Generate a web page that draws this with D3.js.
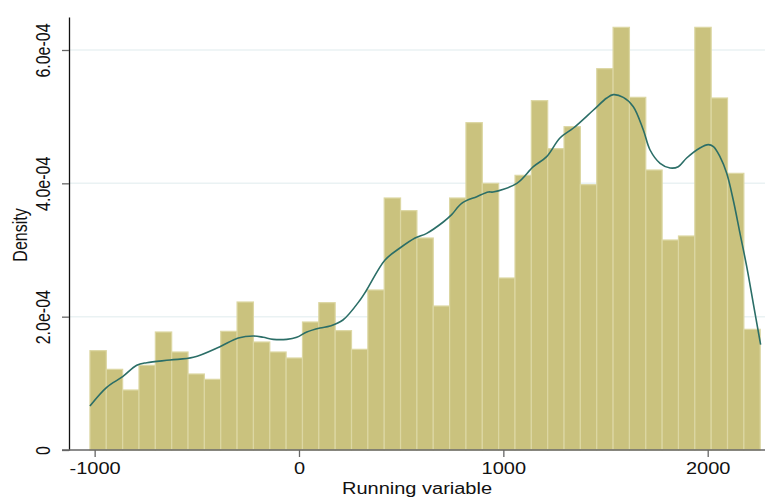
<!DOCTYPE html>
<html>
<head>
<meta charset="utf-8">
<script src="https://cdn.jsdelivr.net/npm/d3@7"></script>
<style>
  body { margin: 0; background: #fff; }
  text { font-family: "Liberation Sans", Arial, sans-serif; }
</style>
</head>
<body>
<div id="chart"></div>
<script>
// histogram bins (density units), first bin edge and width in running-variable units
var binStart = -1023;
var binWidth = 80;
var binDensity = [
  1.49e-4, 1.21e-4, 0.90e-4, 1.27e-4, 1.77e-4, 1.47e-4, 1.14e-4, 1.06e-4, 1.78e-4, 2.22e-4,
  1.62e-4, 1.47e-4, 1.38e-4, 1.92e-4, 2.21e-4, 1.79e-4, 1.51e-4, 2.40e-4, 3.78e-4, 3.59e-4,
  3.18e-4, 2.16e-4, 3.78e-4, 4.91e-4, 4.00e-4, 2.58e-4, 4.12e-4, 5.24e-4, 4.52e-4, 4.85e-4,
  3.98e-4, 5.72e-4, 6.34e-4, 5.29e-4, 4.20e-4, 3.15e-4, 3.21e-4, 6.34e-4, 5.28e-4, 4.15e-4,
  1.81e-4
];

// kernel density line
var kdeX = [-1023, -941, -863, -794, -745, -631, -517, -387, -297, -224, -175, -126, -60, -11,
  38, 103, 152, 215, 299, 331, 421, 494, 568, 625, 706, 747, 796, 870, 927, 950, 1066, 1147,
  1212, 1277, 1343, 1441, 1506, 1538, 1587, 1636, 1685, 1718, 1767, 1816, 1856, 1897, 1962,
  2003, 2028, 2060, 2093, 2125, 2158, 2191, 2223, 2259];
var kdeY = [0.66, 0.94, 1.10, 1.27, 1.31, 1.35, 1.39, 1.55, 1.68, 1.71, 1.69, 1.66, 1.66, 1.69,
  1.77, 1.83, 1.86, 1.95, 2.25, 2.40, 2.85, 3.03, 3.18, 3.25, 3.42, 3.53, 3.70, 3.80, 3.87, 3.87,
  4.00, 4.25, 4.40, 4.68, 4.83, 5.10, 5.28, 5.33, 5.29, 5.15, 4.80, 4.50, 4.30, 4.23, 4.25, 4.38,
  4.53, 4.58, 4.55, 4.40, 4.15, 3.75, 3.25, 2.75, 2.20, 1.58].map(function(v) { return v * 1e-4; });

var xTicks = [-1000, 0, 1000, 2000];
var yTicks = [0, 2e-4, 4e-4, 6e-4];

var svgWidth = 765;
var svgHeight = 497;

var svg = d3.select("#chart")
  .append("svg")
  .attr("width", svgWidth)
  .attr("height", svgHeight);

// scales - plot region from y axis (x=69) to right edge
var xScale = d3.scaleLinear()
  .domain([-1125.5, 2280.4])
  .range([69, 765]);

var yScale = d3.scaleLinear()
  .domain([0, 6.495e-4])
  .range([450, 17]);

// grid lines
svg.append("g")
  .selectAll("line")
  .data(yTicks.slice(1))
  .enter()
  .append("line")
  .attr("x1", 69)
  .attr("x2", 765)
  .attr("y1", d => yScale(d))
  .attr("y2", d => yScale(d))
  .attr("stroke", "#eaf2f3")
  .attr("stroke-width", 1.5);

// bars
var bins = binDensity.map(function(d, i) {
  return { x0: binStart + i * binWidth, x1: binStart + (i + 1) * binWidth, y: d };
});

svg.append("g")
  .selectAll("rect")
  .data(bins)
  .enter()
  .append("rect")
  .attr("x", d => xScale(d.x0))
  .attr("y", d => yScale(d.y))
  .attr("width", d => xScale(d.x1) - xScale(d.x0))
  .attr("height", d => yScale(0) - yScale(d.y))
  .attr("fill", "#cac27e")
  .attr("stroke", "#dcd7a3")
  .attr("stroke-width", 1.2);

// density curve
var kde = kdeX.map((x, i) => [x, kdeY[i]]);
var line = d3.line()
  .x(d => xScale(d[0]))
  .y(d => yScale(d[1]))
  .curve(d3.curveCatmullRom);

svg.append("path")
  .datum(kde)
  .attr("d", line)
  .attr("fill", "none")
  .attr("stroke", "#2b6e67")
  .attr("stroke-width", 1.6);

// axes
var fmt = d => d === 0 ? "0" : d.toExponential(1).replace(/e([+-])(\d)$/, "e$10$2");

var yAxis = svg.append("g")
  .attr("transform", "translate(69,0)")
  .call(d3.axisLeft(yScale).tickValues(yTicks).tickFormat(fmt).tickSize(7).tickSizeOuter(0));
yAxis.select(".domain").attr("stroke", "#111").attr("stroke-width", 1.3);
yAxis.selectAll(".tick line").attr("stroke", "#666").attr("stroke-width", 1.3);
yAxis.selectAll(".tick text")
  .attr("x", 0).attr("y", 0).attr("dy", 0)
  .attr("text-anchor", "middle")
  .attr("transform", "translate(-19,0) scale(1.25,1) rotate(-90)")
  .attr("font-size", 16)
  .attr("font-family", "Liberation Sans, Arial, sans-serif")
  .attr("fill", "#111");

var xAxis = svg.append("g")
  .attr("transform", "translate(0,450)")
  .call(d3.axisBottom(xScale).tickValues(xTicks).tickFormat(d => String(d)).tickSize(7).tickSizeOuter(0));
xAxis.select(".domain").attr("d", "M62,0H765").attr("stroke", "#666").attr("stroke-width", 1.3);
xAxis.selectAll(".tick line").attr("stroke", "#666").attr("stroke-width", 1.3);
xAxis.selectAll(".tick text")
  .attr("y", 0).attr("dy", 0)
  .attr("transform", "translate(0,24) scale(1.25,1)")
  .attr("font-size", 16)
  .attr("font-family", "Liberation Sans, Arial, sans-serif")
  .attr("fill", "#111");

// axis titles
svg.append("text")
  .attr("transform", "translate(27,235) scale(1.25,1) rotate(-90)")
  .attr("text-anchor", "middle")
  .attr("font-size", 16)
  .attr("fill", "#111")
  .text("Density");

svg.append("text")
  .attr("transform", "translate(417,494) scale(1.25,1)")
  .attr("text-anchor", "middle")
  .attr("font-size", 16)
  .attr("fill", "#111")
  .text("Running variable");
</script>
</body>
</html>
